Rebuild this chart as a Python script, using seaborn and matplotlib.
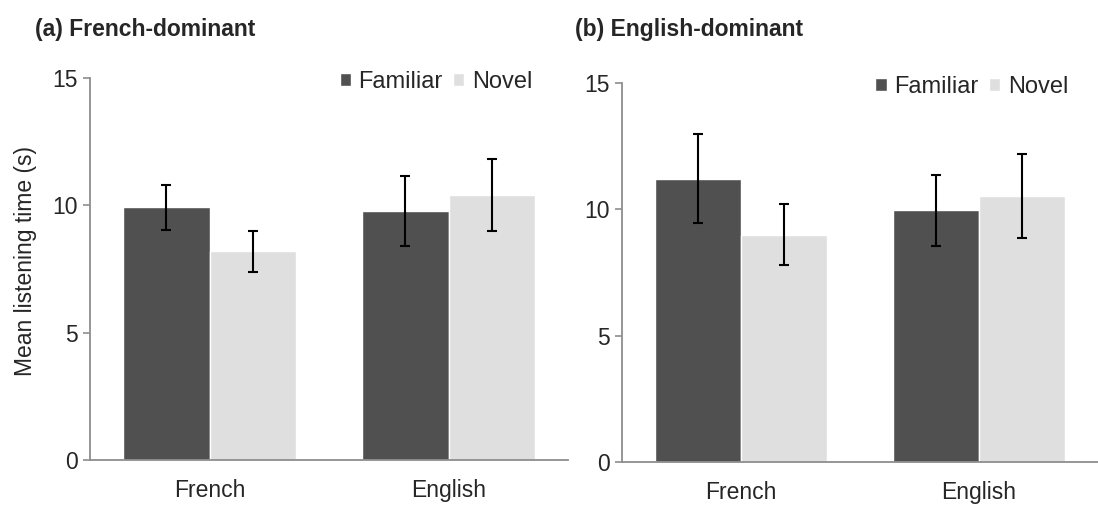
import matplotlib
matplotlib.use("Agg")
import matplotlib.pyplot as plt
import seaborn as sns
import pandas as pd

# Categories
languages = ["French", "English"]
conditions = ["Familiar", "Novel"]

# (a) French-dominant infants: mean listening time (s) and error bar half-widths
fr_dom_familiar = [9.92, 9.78]
fr_dom_novel = [8.19, 10.39]
fr_dom_familiar_err = [0.88, 1.37]
fr_dom_novel_err = [0.80, 1.41]

# (b) English-dominant infants
en_dom_familiar = [11.21, 9.96]
en_dom_novel = [9.00, 10.53]
en_dom_familiar_err = [1.77, 1.40]
en_dom_novel_err = [1.20, 1.67]

y_ticks = [0, 5, 10, 15]
titles = ["(a) French-dominant", "(b) English-dominant"]
y_label = "Mean listening time (s)"

DARK = "#505050"
LIGHT = "#dfdfdf"
AXIS = "#8e8e8e"
FONT = ["Liberation Sans", "DejaVu Sans"]
FS = 16.5
FS_LEGEND = 17

sns.set_theme(style="white")
plt.rcParams["font.family"] = FONT


def make_frame(familiar, novel, familiar_err, novel_err):
    rows = []
    for lang, m, e in zip(languages, familiar, familiar_err):
        rows.append({"language": lang, "condition": "Familiar", "mean": m, "err": e})
    for lang, m, e in zip(languages, novel, novel_err):
        rows.append({"language": lang, "condition": "Novel", "mean": m, "err": e})
    return pd.DataFrame(rows)


panels = [
    make_frame(fr_dom_familiar, fr_dom_novel, fr_dom_familiar_err, fr_dom_novel_err),
    make_frame(en_dom_familiar, en_dom_novel, en_dom_familiar_err, en_dom_novel_err),
]

fig = plt.figure(figsize=(10.98, 5.07), dpi=100)
axes_rects = [
    [90 / 1098, 47 / 507, 478 / 1098, 382 / 507],
    [622 / 1098, 45 / 507, 476 / 1098, 379 / 507],
]
legend_anchor = [(0.925, 0.99), (0.937, 0.99)]
title_x = [35 / 1098, 575 / 1098]

for i, (df, rect) in enumerate(zip(panels, axes_rects)):
    ax = fig.add_axes(rect)
    sns.barplot(
        data=df, x="language", y="mean", hue="condition",
        order=languages, hue_order=conditions,
        palette=[DARK, LIGHT], width=0.72, errorbar=None,
        saturation=1.0, ax=ax,
    )
    # error bars at the centre of each drawn bar
    for cond, container in zip(conditions, ax.containers):
        sub = df[df["condition"] == cond].set_index("language").loc[languages]
        xs = [p.get_x() + p.get_width() / 2 for p in container.patches]
        ax.errorbar(xs, sub["mean"].values, yerr=sub["err"].values,
                    fmt="none", ecolor="black", elinewidth=1.5,
                    capsize=3.5, capthick=1.5, zorder=5)

    ax.set_xlim(-0.5, 1.5)
    ax.set_ylim(0, 15)
    ax.set_yticks(y_ticks)
    ax.set_yticklabels([str(t) for t in y_ticks], fontsize=FS)
    ax.set_xticks(range(len(languages)))
    ax.set_xticklabels(languages, fontsize=FS)
    ax.set_xticks([0.5, 1.5], minor=True)
    ax.tick_params(axis="x", which="major", length=0, pad=14)
    ax.tick_params(axis="x", which="minor", length=5, width=1.2,
                   color=AXIS, direction="out")
    ax.tick_params(axis="y", length=5, width=1.2, color=AXIS,
                   direction="out", pad=4, left=True)
    for side in ["top", "right"]:
        ax.spines[side].set_visible(False)
    for side in ["left", "bottom"]:
        ax.spines[side].set_color(AXIS)
        ax.spines[side].set_linewidth(1.3)
    ax.set_xlabel("")
    if i == 0:
        ax.set_ylabel(y_label, fontsize=FS)
        ax.yaxis.set_label_coords(-0.111, 0.52)
    else:
        ax.set_ylabel("")

    handles, labels = ax.get_legend_handles_labels()
    if ax.get_legend() is not None:
        ax.get_legend().remove()
    ax.legend(handles, labels, loc="center right",
              bbox_to_anchor=legend_anchor[i], ncol=2, frameon=False,
              fontsize=FS_LEGEND, handlelength=0.47, handleheight=0.47,
              handletextpad=0.32, columnspacing=0.45, borderpad=0,
              borderaxespad=0)

    fig.text(title_x[i], 1 - 36 / 507, titles[i], fontsize=FS,
             fontweight="bold", ha="left", va="baseline")

fig.savefig("out.png", dpi=100)
